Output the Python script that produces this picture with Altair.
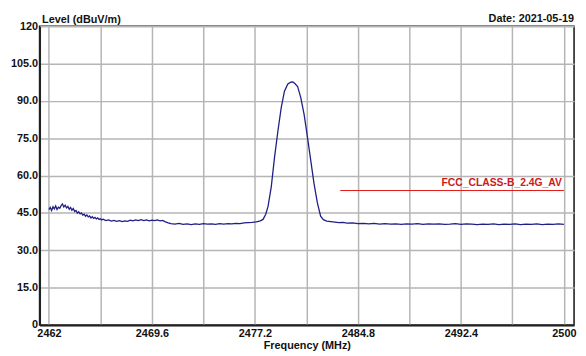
import altair as alt
import pandas as pd

# ---- data ----
freq = [2462.0, 2462.1, 2462.2, 2462.3, 2462.4, 2462.5, 2462.6, 2462.7, 2462.8, 2462.9,
        2463.0, 2463.1, 2463.2, 2463.3, 2463.4, 2463.5, 2463.6, 2463.7, 2463.8, 2463.9,
        2464.0, 2464.1, 2464.2, 2464.3, 2464.4, 2464.5, 2464.6, 2464.7, 2464.8, 2464.9,
        2465.0, 2465.1, 2465.2, 2465.3, 2465.4, 2465.5, 2465.6, 2465.7, 2465.8, 2465.9,
        2466.0, 2466.2, 2466.4, 2466.6, 2466.8, 2467.0, 2467.2, 2467.4, 2467.6, 2467.8,
        2468.0, 2468.2, 2468.4, 2468.6, 2468.8, 2469.0, 2469.2, 2469.4, 2469.6, 2469.8,
        2470.0, 2470.2, 2470.4, 2470.6, 2470.8, 2471.0, 2471.3, 2471.6, 2471.9, 2472.2,
        2472.5, 2472.8, 2473.1, 2473.4, 2473.7, 2474.0, 2474.3, 2474.6, 2474.9, 2475.2,
        2475.5, 2475.8, 2476.1, 2476.4, 2476.7, 2477.0, 2477.3, 2477.6, 2477.8, 2478.0,
        2478.17, 2478.41, 2478.65, 2478.9, 2479.14, 2479.38, 2479.63, 2479.85, 2480.0, 2480.15,
        2480.35, 2480.59, 2480.83, 2481.08, 2481.32, 2481.56, 2481.81, 2482.05, 2482.25, 2482.5,
        2482.8, 2483.1, 2483.4, 2483.7, 2484.0, 2484.4, 2484.8, 2485.2, 2485.6, 2486.0,
        2486.4, 2486.8, 2487.2, 2487.6, 2488.0, 2488.4, 2488.8, 2489.2, 2489.6, 2490.0,
        2490.4, 2490.8, 2491.2, 2491.6, 2492.0, 2492.4, 2492.8, 2493.2, 2493.6, 2494.0,
        2494.4, 2494.8, 2495.2, 2495.6, 2496.0, 2496.4, 2496.8, 2497.2, 2497.6, 2498.0,
        2498.4, 2498.8, 2499.2, 2499.6, 2500.0]
level = [46.3, 47.2, 46.0, 47.5, 46.6, 47.8, 46.4, 47.3, 46.9, 47.9,
         48.6, 47.4, 48.1, 47.0, 47.6, 46.5, 47.2, 46.1, 46.8, 45.6,
         46.0, 44.9, 45.5, 44.6, 45.0, 44.1, 44.5, 43.7, 44.2, 43.4,
         43.8, 43.0, 43.5, 42.8, 43.2, 42.6, 43.0, 42.4, 42.7, 42.2,
         42.5, 41.9, 42.2, 41.7, 42.0, 41.6, 41.9, 41.5, 41.8, 41.6,
         42.1, 41.8, 42.2, 41.9, 42.3, 41.9, 42.2, 41.8, 42.1, 41.9,
         42.2, 41.8, 42.0, 41.4, 41.0, 40.7, 40.5, 40.8, 40.4, 40.6,
         40.3, 40.6, 40.4, 40.7, 40.5, 40.6, 40.4, 40.7, 40.5, 40.7,
         40.6, 40.8, 40.7, 41.0, 41.1, 41.2, 41.4, 41.8, 42.4, 44.5,
         47.6, 55.6, 67.4, 78.0, 87.2, 93.9, 96.8, 97.5, 97.6, 97.0,
         95.8, 91.2, 84.6, 75.4, 66.1, 56.9, 49.0, 43.7, 42.3, 41.7,
         41.5, 41.3, 41.1, 41.2, 40.9, 41.0, 40.7, 40.8, 40.6, 40.8,
         40.5, 40.7, 40.5, 40.6, 40.4, 40.6, 40.5, 40.7, 40.4, 40.6,
         40.5, 40.6, 40.4, 40.5, 40.7, 40.4, 40.6, 40.5, 40.3, 40.5,
         40.4, 40.6, 40.3, 40.5, 40.4, 40.6, 40.3, 40.5, 40.4, 40.6,
         40.3, 40.5, 40.4, 40.6, 40.4]

limit_name = ["FCC_CLASS-B_2.4G_AV"]
limit_start = [2483.5]
limit_end = [2500.0]
limit_level = [54.0]

x_grid = [2462, 2465.8, 2469.6, 2473.4, 2477.2, 2481, 2484.8, 2488.6, 2492.4, 2496.2, 2500]
x_labels = ["2462", "2469.6", "2477.2", "2484.8", "2492.4", "2500"]
y_grid = [0, 15, 30, 45, 60, 75, 90, 105, 120]

x_domain = [2461.31, 2500.75]
y_domain = [0, 120]

FONT = "Liberation Sans"
trace = pd.DataFrame({"freq": freq, "level": level})
limit = pd.DataFrame({"name": limit_name, "start": limit_start,
                      "end": limit_end, "level": limit_level})

lab_arr = "[" + ",".join("'%s'" % s for s in x_labels) + "]"
x_label_expr = "indexof(%s, format(datum.value, '~f')) >= 0 ? format(datum.value, '~f') : ''" % lab_arr
y_label_expr = "(datum.value == 0 || datum.value == 120) ? format(datum.value, 'd') : format(datum.value, '.1f')"

x_enc = alt.X("freq:Q", scale=alt.Scale(domain=x_domain, nice=False, zero=False),
              axis=alt.Axis(values=x_grid, tickCount=40, labelExpr=x_label_expr,
                            title="Frequency (MHz)",
                            labelFlush=False, labelOverlap=False, labelBound=False,
                            ticks=False, labelPadding=3, titlePadding=1,
                            labelFontSize=11, titleFontSize=11))
y_enc = alt.Y("level:Q", scale=alt.Scale(domain=y_domain, nice=False),
              axis=alt.Axis(values=y_grid, tickCount=40, labelExpr=y_label_expr,
                            title="Level (dBuV/m)",
                            titleAngle=0, titleAlign="left", titleBaseline="bottom",
                            titleX=2, titleY=-2, labelOverlap=False, labelFlush=False,
                            ticks=False, labelPadding=2,
                            labelFontSize=11, titleFontSize=11))

line = alt.Chart(trace).mark_line(color="#1f1f86", strokeWidth=1.3).encode(x=x_enc, y=y_enc)

rule = alt.Chart(limit).mark_rule(color="#e01818", strokeWidth=1).encode(
    x="start:Q", x2="end:Q", y="level:Q")

label = alt.Chart(limit).mark_text(color="#cc1a1a", font=FONT, fontSize=10.5, fontWeight="bold",
                                   align="right", baseline="bottom", dx=-2, dy=-3).encode(
    x="end:Q", y="level:Q", text="name:N")

chart = alt.layer(line, rule, label).properties(
    width=542, height=303,
    autosize=alt.AutoSizeParams(type="none"),
    padding={"left": 32, "top": 16, "right": 4, "bottom": 29},
    title=alt.TitleParams("Date: 2021-05-19", anchor="end", fontSize=11, fontWeight="bold",
                          font=FONT, color="#111111", offset=2, frame="group",
                          baseline="bottom", dy=24),
).configure_view(
    stroke="#111111", strokeWidth=1.5
).configure_axis(
    labelFont=FONT, titleFont=FONT, labelFontWeight="bold", titleFontWeight="bold",
    labelColor="#111111", titleColor="#111111",
    gridColor="#b5b5b5", gridWidth=1.5, gridOpacity=1,
    domainColor="#222222", domainWidth=2
)

chart.save("out.html", embed_options={"renderer": "svg", "actions": False})
